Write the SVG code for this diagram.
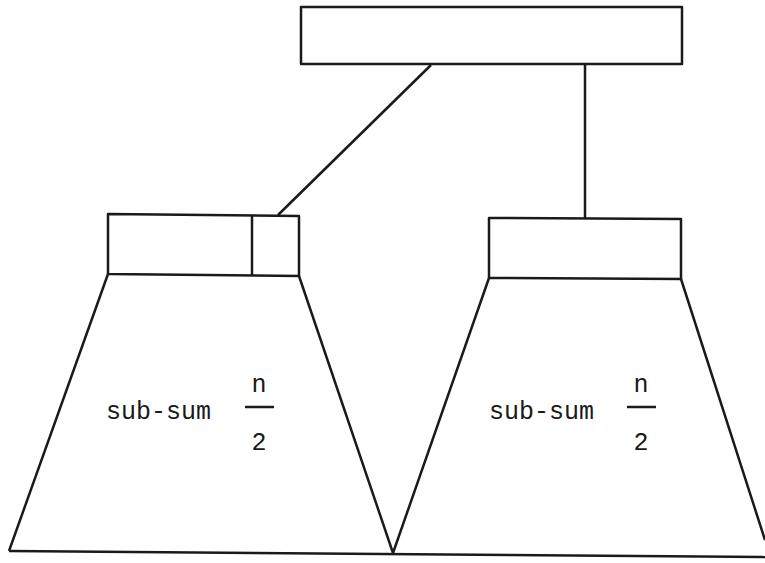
<svg xmlns="http://www.w3.org/2000/svg" width="765" height="563" viewBox="0 0 765 563">
<style>
.s{fill:none;stroke:#1a1a1a;stroke-width:2.5;stroke-linejoin:round}
.t{font-family:"Liberation Mono","DejaVu Sans Mono",monospace;font-size:25px;fill:#1a1a1a}
.f{font-family:"Liberation Mono","DejaVu Sans Mono",monospace;font-size:25px;fill:#1a1a1a;text-anchor:middle}
</style>
<rect width="765" height="563" fill="#fff"/>
<g id="connectors">
<line class="s" x1="431" y1="65" x2="278" y2="215"/>
<line class="s" x1="585" y1="65" x2="585" y2="218"/>
<line class="s" x1="9" y1="551" x2="765" y2="557"/>
</g>
<g id="root">
<rect class="s" x="301" y="7" width="381" height="57"/>
</g>
<g id="left-node">
<path class="s" d="M108,214 L299,216 L299,276 L108,274 Z"/>
<line class="s" x1="252" y1="215" x2="252" y2="275"/>
</g>
<g id="left-tree">
<path class="s" d="M108,274 L9,551 M299,276 L393,553"/>
<text class="t" x="106" y="419">sub-sum</text>
<text class="f" x="259" y="392">n</text>
<line class="s" x1="245" y1="407" x2="274" y2="407" stroke-width="1.5"/>
<text class="f" x="259" y="450">2</text>
</g>
<g id="right-node">
<path class="s" d="M489,218 L681,219 L681,279 L489,278 Z"/>
</g>
<g id="right-tree">
<path class="s" d="M489,278 L393,553 M681,279 L765,540"/>
<text class="t" x="489" y="419">sub-sum</text>
<text class="f" x="641" y="392">n</text>
<line class="s" x1="627" y1="407" x2="656" y2="407" stroke-width="1.5"/>
<text class="f" x="641" y="450">2</text>
</g>
</svg>
